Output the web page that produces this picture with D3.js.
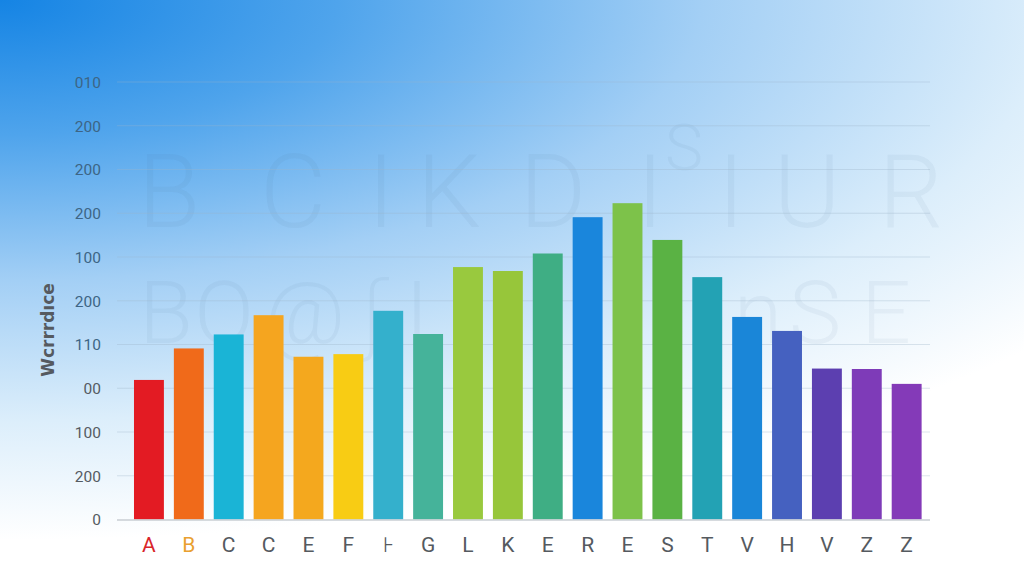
<!DOCTYPE html>
<html>
<head>
<meta charset="utf-8">
<script src="https://cdn.jsdelivr.net/npm/d3@7"></script>
<style>
  html, body { margin: 0; padding: 0; background: #fff; }
  svg { display: block; }
</style>
</head>
<body>
<svg id="chart" width="1024" height="585"></svg>
<script>
// ---- data ----
const categories = ["A","B","C","C","E","F","⊦","G","L","K","E","R","E","S","T","V","H","V","Z","Z"];
const values = [3.19, 3.91, 4.23, 4.67, 3.72, 3.78, 4.77, 4.24, 5.77, 5.68, 6.08, 6.91, 7.23, 6.39, 5.54, 4.63, 4.31, 3.45, 3.44, 3.10];
const barColors = ["#e31b23","#f06a1a","#1ab4d6","#f5a51f","#f4a81e","#f8cc14","#34b0cc","#45b39a","#99c93e","#97c63a","#3fae84","#1a86dc","#7dc24a","#5ab244","#23a2b4","#1a86d8","#4561c0","#5c3fb0","#7e3bb8","#843ab8"];
const tickValues = [0,1,2,3,4,5,6,7,8,9,10];
const tickLabels = ["0","200","100","00","110","200","100","200","200","200","010"];
const yTitle = "Wcrrrdıce";
const watermarkRow1 = ["B","C","I","K","D","I","I","U","R"];
const watermarkRow2 = ["B","O","@","ʃ","I","n","S","E"];

// ---- layout ----
const W = 1024, H = 585;
const svg = d3.select("#chart");
const defs = svg.append("defs");

const bg = defs.append("radialGradient")
  .attr("id","bg").attr("gradientUnits","userSpaceOnUse")
  .attr("cx",0).attr("cy",0).attr("r",1)
  .attr("gradientTransform","translate(0,0) scale(1350,540)");
[[0,"#1584e4"],[0.25,"#4fa4ec"],[0.52,"#a3cff5"],[0.78,"#dceefb"],[1,"#ffffff"]]
  .forEach(([o,c]) => bg.append("stop").attr("offset",o).attr("stop-color",c));
svg.append("rect").attr("width",W).attr("height",H).attr("fill","#ffffff");
svg.append("rect").attr("width",W).attr("height",H).attr("fill","url(#bg)");

const gridX0 = 117, gridX1 = 930;
const x = d3.scaleBand().domain(d3.range(categories.length))
  .range([130, 925.6]).paddingInner(0.25).paddingOuter(0.1);
const y = d3.scaleLinear().domain([0,10]).range([519.5, 82]);

// watermark
const wm = svg.append("g").attr("fill","#48698a").attr("fill-opacity",0.06)
  .attr("font-family","Roboto, 'DejaVu Sans', sans-serif").attr("font-weight",300);
const row1X = [169, 293, 381, 449, 553, 650, 731, 807, 911];
wm.selectAll("text.r1").data(watermarkRow1).join("text").attr("class","r1")
  .attr("x",(d,i)=>row1X[i]).attr("y",227).attr("text-anchor","middle")
  .attr("font-size",102).text(d=>d);
wm.append("text").attr("x",684).attr("y",170).attr("text-anchor","middle")
  .attr("font-size",64).text("S");
const row2X = [166, 224, 305, 373, 417, 758, 815, 886];
wm.selectAll("text.r2").data(watermarkRow2).join("text").attr("class","r2")
  .attr("x",(d,i)=>row2X[i]).attr("y",343).attr("text-anchor","middle")
  .attr("font-size",88).text(d=>d);

// grid
const grid = svg.append("g");
grid.selectAll("line").data(tickValues.filter(v=>v>0)).join("line")
  .attr("x1",gridX0).attr("x2",gridX1)
  .attr("y1",d=>y(d)).attr("y2",d=>y(d))
  .attr("stroke","#9fb4c8").attr("stroke-opacity",0.35).attr("stroke-width",1);

// y axis
const yAxis = d3.axisLeft(y).tickValues(tickValues)
  .tickFormat((d,i)=>tickLabels[i]).tickSize(0).tickPadding(0);
const yg = svg.append("g").attr("transform","translate(101,0)").call(yAxis);
yg.select(".domain").remove();
yg.selectAll("text").attr("font-family","Roboto, 'Open Sans', sans-serif")
  .attr("font-size",15.5).attr("fill",(d)=> d>=4 ? "#3d6585" : "#555b62")
  .attr("dy","0.35em");

// bars
svg.append("g").selectAll("rect").data(values).join("rect")
  .attr("x",(d,i)=>x(i)).attr("width",x.bandwidth())
  .attr("y",d=>y(d)).attr("height",d=>y(0)-y(d))
  .attr("fill",(d,i)=>barColors[i]);

// baseline
svg.append("line").attr("x1",gridX0).attr("x2",gridX1)
  .attr("y1",y(0)+0.5).attr("y2",y(0)+0.5)
  .attr("stroke","#c9ced3").attr("stroke-width",1.5);

// x axis
const xAxis = d3.axisBottom(x).tickFormat(i=>categories[i]).tickSize(0).tickPadding(0);
const xg = svg.append("g").attr("transform",`translate(0,${y(0)})`).call(xAxis);
xg.select(".domain").remove();
xg.selectAll("text").attr("font-family","Roboto, 'Open Sans', sans-serif")
  .attr("font-size",21).attr("dy","1.55em")
  .attr("fill",(i)=> i===0 ? "#d9252a" : i===1 ? "#e9a030" : "#555a60");

// y title
svg.append("text").attr("transform","translate(54,330) rotate(-90)")
  .attr("text-anchor","middle").attr("font-family","'DejaVu Sans', Roboto, sans-serif")
  .attr("font-size",17).attr("font-weight","bold").attr("fill","#555a60")
  .text(yTitle);
</script>
</body>
</html>
